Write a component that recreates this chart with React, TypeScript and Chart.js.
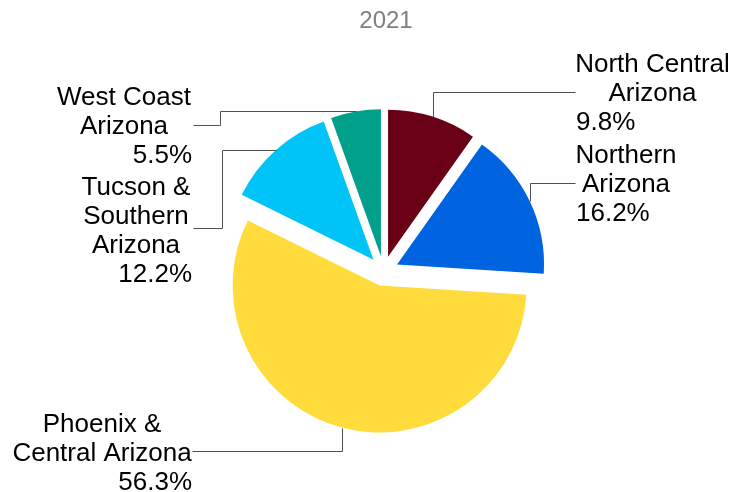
import React, { useEffect, useRef } from 'react';
import { Chart, registerables } from 'chart.js';

Chart.register(...registerables);

// ---- data ----
const chartTitle = '2021';
const categoryLines: string[][] = [
  ['North Central', 'Arizona'],
  ['Northern', 'Arizona'],
  ['Phoenix &', 'Central Arizona'],
  ['Tucson &', 'Southern', 'Arizona'],
  ['West Coast', 'Arizona'],
];
const categories = categoryLines.map((l) => l.join(' '));
const shares = [9.8, 16.2, 56.3, 12.2, 5.5];
const sliceColors = ['#6A0016', '#0063E0', '#FFDB3C', '#00C4F7', '#00A08A'];

// ---- layout / style ----
const W = 734;
const H = 492;
const EXPLODE = 15;
const RADIUS = 147;
const FONT = '26px "Liberation Sans", Arial, sans-serif';
const LINE_GAP = 29;
const LEADER_COLOR = '#505050';

type Step = ['v' | 'h', number];
interface LabelLayout {
  baseline: number;
  cx: number;
  pctX: number;
  pctAlign: CanvasTextAlign;
  leader: Step[];
}
const labelLayout: LabelLayout[] = [
  { baseline: 72, cx: 652.5, pctX: 576, pctAlign: 'left', leader: [['v', 92], ['h', 575]] },
  { baseline: 163, cx: 626, pctX: 576, pctAlign: 'left', leader: [['v', 183], ['h', 575]] },
  { baseline: 432, cx: 102, pctX: 192, pctAlign: 'right', leader: [['v', 451], ['h', 192]] },
  { baseline: 195, cx: 136, pctX: 192, pctAlign: 'right', leader: [['h', 222], ['v', 228], ['h', 193]] },
  { baseline: 105, cx: 124, pctX: 192, pctAlign: 'right', leader: [['h', 220], ['v', 125], ['h', 193]] },
];

const explodePlugin = {
  id: 'explodeAndLabels',
  beforeDatasetDraw(chart: any, args: any) {
    const meta = chart.getDatasetMeta(args.index);
    const ctx = chart.ctx as CanvasRenderingContext2D;
    meta.data.forEach((arc: any) => {
      const mid = (arc.startAngle + arc.endAngle) / 2;
      ctx.save();
      ctx.translate(Math.cos(mid) * EXPLODE, Math.sin(mid) * EXPLODE);
      arc.draw(ctx, chart.chartArea);
      ctx.restore();
    });
    return false;
  },
  afterDraw(chart: any) {
    const ctx = chart.ctx as CanvasRenderingContext2D;
    const meta = chart.getDatasetMeta(0);
    ctx.save();
    // title
    ctx.font = '24px "Liberation Sans", Arial, sans-serif';
    ctx.fillStyle = '#7F7F7F';
    ctx.textAlign = 'center';
    ctx.textBaseline = 'alphabetic';
    ctx.fillText(chartTitle, 386, 28);

    meta.data.forEach((arc: any, i: number) => {
      const lay = labelLayout[i];
      const mid = (arc.startAngle + arc.endAngle) / 2;
      const cx = arc.x + Math.cos(mid) * EXPLODE;
      const cy = arc.y + Math.sin(mid) * EXPLODE;
      let px = Math.round(cx + Math.cos(mid) * arc.outerRadius) + 0.5;
      let py = Math.round(cy + Math.sin(mid) * arc.outerRadius) + 0.5;
      ctx.beginPath();
      ctx.strokeStyle = LEADER_COLOR;
      ctx.lineWidth = 1;
      ctx.moveTo(px, py);
      lay.leader.forEach(([dir, v]) => {
        if (dir === 'v') py = v + 0.5;
        else px = v + 0.5;
        ctx.lineTo(px, py);
      });
      ctx.stroke();

      ctx.font = FONT;
      ctx.fillStyle = '#000000';
      const lines = categoryLines[i];
      lines.forEach((t, k) => {
        ctx.textAlign = 'center';
        ctx.fillText(t, lay.cx, lay.baseline + k * LINE_GAP);
      });
      ctx.textAlign = lay.pctAlign;
      ctx.fillText(shares[i].toFixed(1) + '%', lay.pctX, lay.baseline + lines.length * LINE_GAP);
    });
    ctx.restore();
  },
};

export default function App() {
  const ref = useRef<HTMLCanvasElement | null>(null);
  useEffect(() => {
    if (!ref.current) return;
    const chart = new Chart(ref.current, {
      type: 'pie',
      data: {
        labels: categories,
        datasets: [
          {
            data: shares,
            backgroundColor: sliceColors,
            borderWidth: 0,
            offset: 0,
          },
        ],
      },
      options: {
        responsive: false,
        animation: false,
        events: [],
        radius: RADIUS,
        layout: { padding: { left: 60, right: 27, top: 80, bottom: 30 } },
        plugins: {
          legend: { display: false },
          tooltip: { enabled: false },
          title: { display: false },
        },
      } as any,
      plugins: [explodePlugin],
    });
    return () => chart.destroy();
  }, []);
  return (
    <div style={{ position: 'fixed', left: 0, top: 0, width: W, height: H, background: '#fff' }}>
      <canvas ref={ref} width={W} height={H} style={{ width: W, height: H, display: 'block' }} />
    </div>
  );
}
